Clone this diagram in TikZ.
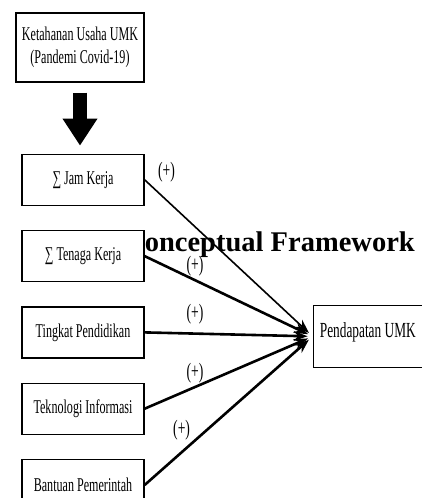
\documentclass[tikz,border=0pt]{standalone}
\usepackage{fontspec}
\setmainfont{Liberation Serif}
\newfontfamily\narrowfont[FakeStretch=0.62]{Liberation Serif}
\usepackage{tikz}
\usetikzlibrary{arrows.meta,positioning,calc}

\begin{document}
\begin{tikzpicture}[
    varbox/.style={rectangle, draw, line width=1.3pt, fill=white, minimum width=122pt, minimum height=51pt, inner sep=0pt, font=\narrowfont\fontsize{19.5}{23}\selectfont},
    topbox/.style={varbox, minimum width=128pt, minimum height=69pt, align=center},
    outbox/.style={varbox, minimum width=109pt, minimum height=62pt, text depth=12pt, font=\narrowfont\fontsize{21.5}{25}\selectfont},
    sign/.style={font=\narrowfont\fontsize{22}{24}\selectfont, inner sep=3pt},
    link/.style={-{Stealth[length=14pt,width=10pt]}, line width=2.6pt, shorten >=5pt},
    bigarrow/.style={-{Triangle[length=27pt,width=33pt]}, line width=14.6pt}
]
    % Resilience box
    \node[topbox] (ketahanan) at (0,0) {Ketahanan Usaha UMK\\(Pandemi Covid-19)};

    % Page frame
    \useasboundingbox (-80pt,47.5pt) rectangle (342pt,-450.5pt);
    \clip (-80pt,47.5pt) rectangle (342pt,-450.5pt);

    % Title (sits behind the boxes)
    \node[font=\bfseries\fontsize{28.5}{30}\selectfont] (title) at ($(ketahanan)+(189.5pt,-196.9pt)$) {Conceptual Framework};

    % Variables
    \node[varbox, below left=71pt and 0pt of ketahanan.south east] (jam) {∑ Jam Kerja};
    \node[varbox, below=24pt of jam] (tenaga) {∑ Tenaga Kerja};
    \node[varbox, below=24pt of tenaga] (pendidikan) {Tingkat Pendidikan};
    \node[varbox, below=24pt of pendidikan] (teknologi) {Teknologi Informasi};
    \node[varbox, below=24pt of teknologi] (bantuan) {Bantuan Pemerintah};

    % Outcome
    \node[outbox, right=168pt of pendidikan, yshift=-4pt] (pendapatan) {Pendapatan UMK};

    % Block arrow
    \draw[bigarrow, shorten <=10pt, shorten >=8pt] (ketahanan.south) -- (ketahanan.south |- jam.north);

    % Arrows
    \draw[link, line width=1.6pt] (jam.east) -- node[sign, pos=.13, above=14pt] {(+)} (pendapatan.west);
    \draw[link] (tenaga.east) -- node[sign, pos=.30, above] {(+)} (pendapatan.west);
    \draw[link] (pendidikan.east) -- node[sign, pos=.30, above=5pt] {(+)} (pendapatan.west);
    \draw[link] (teknologi.east) -- node[sign, pos=.30, above] {(+)} (pendapatan.west);
    \draw[link] (bantuan.east) -- node[sign, pos=.22, above=8pt] {(+)} (pendapatan.west);
\end{tikzpicture}
\end{document}
